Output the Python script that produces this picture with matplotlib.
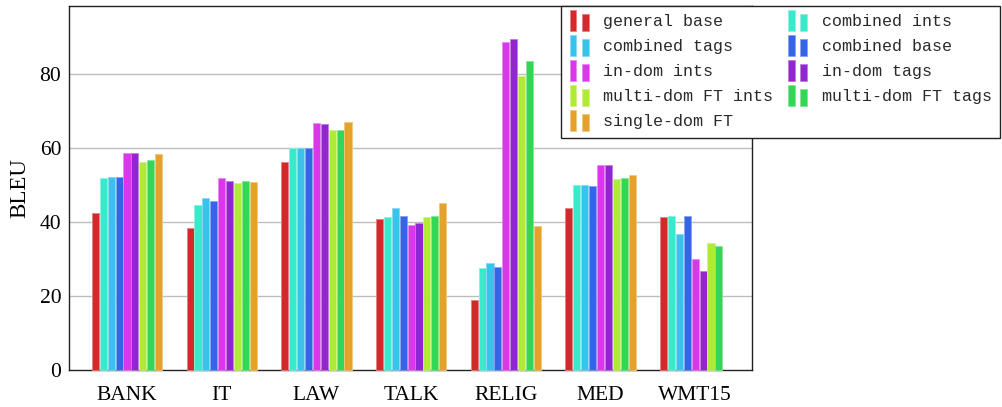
import numpy as np
import matplotlib
matplotlib.use("Agg")
import matplotlib.pyplot as plt
from matplotlib.patches import Rectangle
from matplotlib.legend_handler import HandlerBase
from matplotlib.colors import to_rgb

domains = ["BANK", "IT", "LAW", "TALK", "RELIG", "MED", "WMT15"]

systems = ["general base", "combined ints", "combined tags", "combined base",
           "in-dom ints", "in-dom tags", "multi-dom FT ints", "multi-dom FT tags",
           "single-dom FT"]

general_base      = [42.4, 38.4, 56.2, 40.7, 18.9, 43.9, 41.3]
combined_ints     = [51.9, 44.7, 59.9, 41.4, 27.6, 50.1, 41.5]
combined_tags     = [52.1, 46.5, 59.9, 43.7, 28.8, 50.1, 36.8]
combined_base     = [52.2, 45.7, 59.9, 41.5, 27.8, 49.8, 41.6]
in_dom_ints       = [58.6, 51.9, 66.7, 39.2, 88.7, 55.3, 30.1]
in_dom_tags       = [58.7, 51.1, 66.4, 39.8, 89.5, 55.3, 26.8]
multi_dom_ft_ints = [56.2, 50.6, 64.9, 41.4, 79.5, 51.5, 34.2]
multi_dom_ft_tags = [56.9, 51.0, 64.9, 41.6, 83.6, 51.8, 33.4]
single_dom_ft     = [58.3, 50.8, 67.0, 45.1, 39.0, 52.6, np.nan]

series = [general_base, combined_ints, combined_tags, combined_base,
          in_dom_ints, in_dom_tags, multi_dom_ft_ints, multi_dom_ft_tags,
          single_dom_ft]

colors = ["#d4292b", "#38eacb", "#37c3ea", "#3564e8", "#db37ea",
          "#9126cf", "#b1ea36", "#33d655", "#e5a22b"]

yticks = [0, 20, 40, 60, 80]


def lighten(c, f=0.45):
    r, g, b = to_rgb(c)
    return (r + (1 - r) * f, g + (1 - g) * f, b + (1 - b) * f)


class TwoBarHandler(HandlerBase):
    def create_artists(self, legend, orig_handle, xdescent, ydescent,
                       width, height, fontsize, trans):
        fc = orig_handle.get_facecolor()
        ec = lighten(fc[:3], 0.4)
        w = width * 0.34
        base = -3.0
        r1 = Rectangle((-xdescent, base), w, 15.0, facecolor=fc,
                       edgecolor=ec, lw=0.6, transform=trans)
        r2 = Rectangle((-xdescent + width * 0.64, base), width * 0.36, 12.0,
                       facecolor=fc, edgecolor=ec, lw=0.6, transform=trans)
        return [r1, r2]


fig = plt.figure(figsize=(10.03, 4.07), dpi=100)
ax = fig.add_axes([69.5 / 1003, 37 / 407, 682.5 / 1003, 364 / 407])

serif = ["Liberation Serif", "DejaVu Serif"]
mono = ["Liberation Mono", "DejaVu Sans Mono"]

x = np.arange(len(domains))
slot = 0.0834
handles = []
for i, (name, vals, col) in enumerate(zip(systems, series, colors)):
    offs = (i - (len(systems) - 1) / 2) * slot
    bars = ax.bar(x + offs, vals, width=slot * 0.9, color=col,
                  edgecolor=lighten(col, 0.4), linewidth=0.6,
                  label=name, zorder=3, clip_on=False)
    handles.append(bars.patches[0])

ax.set_xlim(-0.607, 6.6)
ax.set_ylim(0, 98.4)
ax.set_yticks(yticks)
ax.set_xticks(x)
ax.set_xticklabels(domains, fontfamily=serif, fontsize=15.5)
ax.set_yticklabels([str(t) for t in yticks], fontfamily=serif, fontsize=15.5)
ax.tick_params(axis="both", length=0)
ax.tick_params(axis="x", pad=11.5)
ax.tick_params(axis="y", pad=6)

for t in yticks[1:]:
    ax.axhline(t, color="#bdbdbd", lw=1.0, zorder=1)

for s in ax.spines.values():
    s.set_color("#222222")
    s.set_linewidth(1.0)
    s.set_zorder(2)

ax.set_ylabel("BLEU", fontfamily=serif, fontsize=16.5)
ax.yaxis.set_label_coords(-0.058, 0.5)

# two columns, filled row by row
order = [0, 2, 4, 6, 8, 1, 3, 5, 7]
leg = ax.legend([handles[k] for k in order], [systems[k] for k in order],
                ncol=2, loc="upper left",
                bbox_to_anchor=(561.5 / 1003, 1 - 6 / 407),
                bbox_transform=fig.transFigure, borderaxespad=0,
                prop={"family": mono, "size": 12},
                handler_map={Rectangle: TwoBarHandler()},
                handlelength=1.15, handletextpad=0.85, columnspacing=0.9,
                labelspacing=0.6, borderpad=0.5, frameon=True,
                fancybox=False, framealpha=1.0, edgecolor="#222222")
leg.get_frame().set_linewidth(1.0)
leg.set_zorder(5)
for t in leg.get_texts():
    t.set_color("#2a2a2a")

fig.savefig("out.png", dpi=100)
